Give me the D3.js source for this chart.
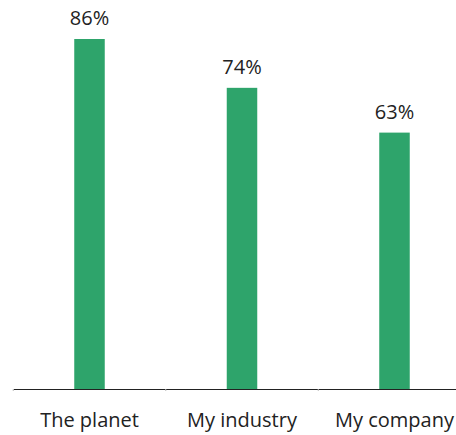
<!DOCTYPE html>
<html>
<head>
<meta charset="utf-8">
<script src="https://cdn.jsdelivr.net/npm/d3@7"></script>
<style>
  body { margin: 0; background: #fff; }
  text { font-family: "Open Sans", "Noto Sans", sans-serif; fill: #222; }
</style>
</head>
<body>
<svg id="chart" width="456" height="435"></svg>
<script>
const categories = ["The planet", "My industry", "My company"];
const values = [86, 74, 63];

const svg = d3.select("#chart");
const baseY = 389;

// band scale runs past the right edge, like the original
const x = d3.scaleBand().domain(categories).range([13.25, 470.75])
  .paddingInner(0.8).paddingOuter(0.4);
const y = d3.scaleLinear().domain([0, d3.max(values)]).range([baseY, 39]);

svg.selectAll("rect.bar").data(values).enter().append("rect")
  .attr("class", "bar")
  .attr("x", (d, i) => x(categories[i]))
  .attr("y", d => y(d))
  .attr("width", x.bandwidth())
  .attr("height", d => baseY - y(d))
  .attr("fill", "#2ea46b");

svg.selectAll("text.val").data(values).enter().append("text")
  .attr("class", "val")
  .attr("x", (d, i) => x(categories[i]) + x.bandwidth() / 2)
  .attr("y", d => y(d) - 14)
  .attr("text-anchor", "middle")
  .style("font-size", "20px")
  .text(d => d + "%");

const axis = d3.axisBottom(x).tickSize(0).tickPadding(24);
const g = svg.append("g").attr("transform", "translate(0," + baseY + ")").call(axis);
g.select(".domain").attr("stroke", "#222").attr("stroke-width", 1.2);
g.selectAll(".tick text").style("font-size", "20px").attr("fill", "#222")
  .style("font-family", '"Open Sans", "Noto Sans", sans-serif');

// faint separators between categories
const seps = [x.range()[0]].concat(categories.slice(1).map(c => x(c) - x.step() * x.paddingInner() / 2));
g.selectAll("line.sep").data(seps).enter().append("line")
  .attr("class", "sep")
  .attr("x1", d => d).attr("x2", d => d)
  .attr("y1", 0).attr("y2", 2)
  .attr("stroke", "#bbb");
</script>
</body>
</html>
